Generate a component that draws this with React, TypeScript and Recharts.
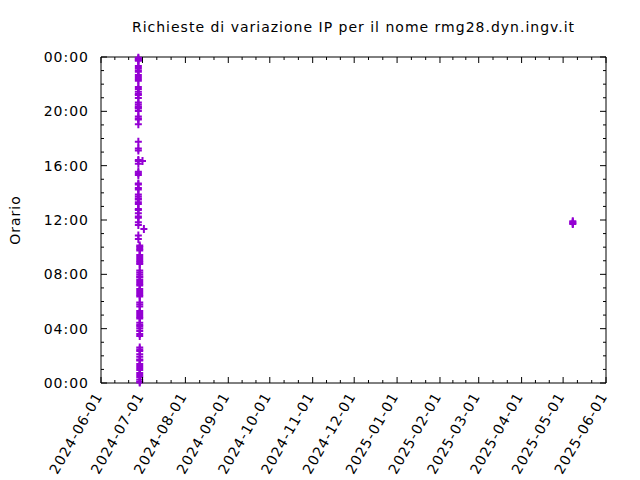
import { ScatterChart, Scatter, XAxis, YAxis, ReferenceArea } from "recharts";

const title = "Richieste di variazione IP per il nome rmg28.dyn.ingv.it";
const yLabel = "Orario";

const monthTicks = [
  "2024-06-01", "2024-07-01", "2024-08-01", "2024-09-01", "2024-10-01", "2024-11-01", "2024-12-01",
  "2025-01-01", "2025-02-01", "2025-03-01", "2025-04-01", "2025-05-01", "2025-06-01",
];
const hourTicks = [0, 1, 2, 3, 4, 5, 6, 7, 8, 9, 10, 11, 12, 13, 14, 15, 16, 17, 18, 19, 20, 21, 22, 23, 24];
const hourLabels = [0, 4, 8, 12, 16, 20, 24];

// requests of 2024-06-28 (evening part of the burst)
const day1 = "2024-06-28";
const day1Times = [
  "23:57", "23:52", "23:47", "23:43", "23:20", "23:11", "23:02", "22:55", "22:40", "22:32", "22:23", "22:15",
  "21:47", "21:39", "21:27", "21:17", "21:12", "20:59", "20:39", "20:30", "20:21", "20:17", "20:12", "20:01",
  "19:37", "19:28", "19:24", "19:03", "17:46", "17:16", "17:07", "16:25", "16:21", "16:08", "15:33", "15:26",
  "15:19", "14:41", "14:37", "14:21", "14:15", "13:53", "13:44", "13:35", "13:31", "13:18", "13:11", "12:49",
  "12:44", "12:30", "12:15", "12:10", "11:50", "11:38", "10:51", "10:36",
];

// requests of 2024-06-29
const day2 = "2024-06-29";
const day2Times = [
  "10:07", "10:01", "09:52", "09:45", "09:25", "09:17", "09:08", "08:59", "08:52", "08:46", "08:17", "08:08",
  "07:59", "07:50", "07:46", "07:35", "07:26", "07:17", "07:11", "06:55", "06:46", "06:37", "06:29", "06:22",
  "05:56", "05:47", "05:38", "05:18", "05:09", "05:00", "04:52", "04:45", "04:26", "04:16", "04:10", "04:01",
  "03:50", "03:36", "03:28", "02:37", "02:28", "02:21", "02:07", "01:56", "01:44", "01:39", "01:24", "01:15",
  "01:06", "00:57", "00:44", "00:35", "00:27", "00:15", "00:07", "00:02",
];

const strayDates = ["2024-07-01", "2024-07-02"];
const strayTimes = ["16:21", "11:20"];

const lastDay = "2025-05-08";
const lastTimes = ["11:42", "11:46", "11:50", "11:54"];

const toMs = (d: string) => Date.parse(d + "T00:00:00Z");
const toHours = (t: string) => {
  const [h, m] = t.split(":").map(Number);
  return h + m / 60;
};

const points = [
  ...day1Times.map((t) => ({ x: toMs(day1), y: toHours(t) })),
  ...day2Times.map((t) => ({ x: toMs(day2), y: toHours(t) })),
  ...strayDates.map((d, i) => ({ x: toMs(d), y: toHours(strayTimes[i]) })),
  ...lastTimes.map((t) => ({ x: toMs(lastDay), y: toHours(t) })),
];

const xStart = toMs(monthTicks[0]);
const xEnd = toMs(monthTicks[monthTicks.length - 1]);
const majorX = monthTicks.map(toMs);
// three sub-divisions per month
const minorX = majorX.slice(1).flatMap((m, i) => {
  const prev = majorX[i];
  return [prev + (m - prev) / 3, prev + (2 * (m - prev)) / 3];
});
const allX = [...majorX, ...minorX].sort((a, b) => a - b);

const W = 640;
const H = 480;
const TOP = 57;
const BOTTOM = 383;
const LEFT = 101;
const RIGHT = 606;
const PURPLE = "#9400d3";
const FONT = "DejaVu Sans";
const FS = 14;
const LS = 1.0;

function XTick(props: any) {
  const { x, payload } = props;
  const major = majorX.includes(payload.value);
  const len = major ? 6 : 3;
  const label = new Date(payload.value).toISOString().slice(0, 10);
  const ax = x + 2;
  const ay = 396;
  return (
    <g>
      <line x1={x} x2={x} y1={BOTTOM} y2={BOTTOM - len} stroke="#000" />
      <line x1={x} x2={x} y1={TOP} y2={TOP + len} stroke="#000" />
      {major && (
        <text
          x={ax}
          y={ay}
          transform={`rotate(-60, ${ax}, ${ay})`}
          textAnchor="end"
          fontFamily={FONT}
          fontSize={FS}
          letterSpacing={LS}
          fill="#000"
        >
          {label}
        </text>
      )}
    </g>
  );
}

function YTick(props: any) {
  const { y, payload } = props;
  const v = payload.value as number;
  const major = hourLabels.includes(v);
  const len = major ? 6 : 3;
  const label = String(v % 24).padStart(2, "0") + ":00";
  return (
    <g>
      <line x1={LEFT} x2={LEFT + len} y1={y} y2={y} stroke="#000" />
      <line x1={RIGHT} x2={RIGHT - len} y1={y} y2={y} stroke="#000" />
      {major && (
        <text
          x={89}
          y={y + 5}
          textAnchor="end"
          fontFamily={FONT}
          fontSize={FS}
          letterSpacing={LS}
          fill="#000"
        >
          {label}
        </text>
      )}
    </g>
  );
}

function Plus(props: any) {
  const { cx, cy } = props;
  if (cx == null || cy == null) return null;
  return (
    <path
      d={`M${cx - 3.5},${cy}H${cx + 3.5}M${cx},${cy - 4}V${cy + 4}`}
      stroke={PURPLE}
      strokeWidth={2}
      fill="none"
    />
  );
}

export default function App() {
  return (
    <div style={{ position: "absolute", left: 0, top: 0, width: W, height: H, background: "#fff" }}>
      <ScatterChart width={W} height={H} margin={{ top: TOP, right: W - RIGHT, bottom: 0, left: 0 }}>
        <XAxis
          dataKey="x"
          type="number"
          domain={[xStart, xEnd]}
          ticks={allX}
          interval={0}
          tick={XTick}
          tickLine={false}
          axisLine={false}
          height={H - BOTTOM}
        />
        <YAxis
          dataKey="y"
          type="number"
          domain={[0, 24]}
          ticks={hourTicks}
          interval={0}
          tick={YTick}
          tickLine={false}
          axisLine={false}
          width={LEFT}
        />
        <ReferenceArea x1={xStart} x2={xEnd} y1={0} y2={24} fill="none" stroke="#000" strokeWidth={1} />
        <Scatter data={points} shape={Plus} isAnimationActive={false} />
      </ScatterChart>
      <svg width={W} height={H} style={{ position: "absolute", left: 0, top: 0, pointerEvents: "none" }}>
        <text
          x={(LEFT + RIGHT) / 2}
          y={32}
          textAnchor="middle"
          fontFamily={FONT}
          fontSize={FS}
          letterSpacing={LS}
          fill="#000"
        >
          {title}
        </text>
        <text
          x={20}
          y={220}
          transform="rotate(-90, 20, 220)"
          textAnchor="middle"
          fontFamily={FONT}
          fontSize={FS}
          letterSpacing={LS}
          fill="#000"
        >
          {yLabel}
        </text>
      </svg>
    </div>
  );
}
